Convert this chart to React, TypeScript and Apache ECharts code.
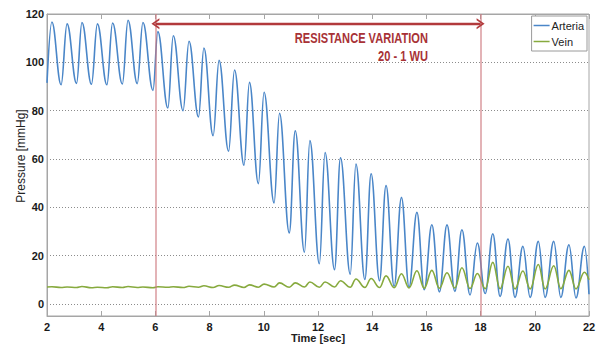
import React, { useEffect, useRef } from "react";
import * as echarts from "echarts";

// ---- data ----
const xTicks = [2, 4, 6, 8, 10, 12, 14, 16, 18, 20, 22];
const yTicks = [0, 20, 40, 60, 80, 100, 120];

const arteriaStart = [2.0, 91.5];
const arteriaEnd = [22.0, 4.0];
const arteriaPeakTime = [2.18, 2.74, 3.29, 3.86, 4.42, 4.99, 5.54, 6.09, 6.66, 7.24, 7.79, 8.35, 8.92, 9.47, 10.01, 10.58, 11.16, 11.7, 12.26, 12.83, 13.4, 13.96, 14.51, 15.08, 15.65, 16.2, 16.76, 17.31, 17.88, 18.45, 19.01, 19.56, 20.13, 20.7, 21.26, 21.83];
const arteriaPeak = [116.7, 115.9, 116.5, 115.9, 116.3, 117.4, 116.5, 112.7, 111.0, 108.7, 105.9, 100.8, 96.8, 91.7, 87.6, 78.9, 71.7, 67.6, 62.7, 60.5, 57.9, 53.9, 49.0, 44.1, 37.9, 32.8, 32.7, 30.7, 25.2, 29.0, 26.9, 23.8, 25.9, 25.9, 24.5, 23.8];
const arteriaTroughTime = [2.52, 3.09, 3.64, 4.21, 4.78, 5.33, 5.91, 6.46, 7.02, 7.59, 8.13, 8.7, 9.27, 9.8, 10.38, 10.94, 11.5, 12.05, 12.61, 13.19, 13.73, 14.27, 14.81, 15.36, 15.92, 16.48, 17.05, 17.61, 18.17, 18.72, 19.27, 19.83, 20.38, 20.96, 21.52];
const arteriaTrough = [90.7, 91.3, 90.9, 90.7, 91.0, 91.2, 88.4, 81.1, 80.0, 77.4, 69.6, 63.2, 57.4, 49.8, 41.8, 29.4, 21.4, 16.6, 14.2, 12.3, 10.1, 9.6, 7.3, 7.0, 5.9, 5.0, 5.2, 3.7, 4.3, 3.1, 2.7, 2.7, 2.7, 2.7, 2.5];

const veinStart = [2.0, 7.0];
const veinEnd = [22.0, 10.0];
const veinPeak = [7.1, 7.0, 7.2, 6.9, 7.1, 7.2, 7.0, 7.1, 7.1, 7.3, 7.5, 7.6, 7.8, 7.9, 8.2, 8.7, 8.7, 9.1, 9.1, 9.6, 10.3, 10.5, 11.6, 12.5, 13.7, 13.9, 12.9, 15.0, 12.6, 17.2, 15.6, 13.6, 16.3, 15.8, 13.9, 13.1];
const veinTrough = [6.8, 6.8, 6.7, 6.7, 6.8, 6.8, 6.7, 6.9, 6.8, 6.9, 6.8, 6.9, 6.8, 6.9, 7.0, 6.9, 7.0, 6.9, 7.0, 6.9, 6.8, 6.8, 6.7, 6.6, 6.5, 6.5, 6.6, 6.4, 6.3, 6.3, 6.2, 6.2, 6.2, 6.3, 6.2];

const resistanceStart = 6;
const resistanceEnd = 18;
const arrowLevel = 116;
const titleLine1 = "RESISTANCE VARIATION";
const titleLine2 = "20 - 1 WU";
const yTitle = "Pressure [mmHg]";
const xTitle = "Time [sec]";

function buildWave(start: number[], end: number[], peakT: number[], peakV: number[], troughT: number[], troughV: number[]) {
  const pts: number[][] = [start];
  for (let i = 0; i < peakT.length; i++) {
    pts.push([peakT[i], peakV[i]]);
    if (i < troughT.length) pts.push([troughT[i], troughV[i]]);
  }
  pts.push(end);
  return pts;
}

const NARROW = "'Liberation Sans Narrow', 'Liberation Sans', Arial, sans-serif";
const SANS = "'Liberation Sans', Arial, sans-serif";
const chevron = "path://M0,10 L5,0 L10,10 L8.2,10 L5,3.6 L1.8,10 Z";

export default function App() {
  const ref = useRef<HTMLDivElement>(null);
  useEffect(() => {
    if (!ref.current) return;
    const chart = echarts.init(ref.current, undefined, { renderer: "svg" });
    const arteria = buildWave(arteriaStart, arteriaEnd, arteriaPeakTime, arteriaPeak, arteriaTroughTime, arteriaTrough);
    const vein = buildWave(veinStart, veinEnd, arteriaPeakTime, veinPeak, arteriaTroughTime, veinTrough);
    const axisGray = "#a6a6a6";
    chart.setOption({
      animation: false,
      backgroundColor: "#ffffff",
      grid: { left: 47, right: 14, top: 14, bottom: 31, show: true, borderColor: axisGray, borderWidth: 1, outerBoundsMode: "none", containLabel: false },
      legend: {
        data: [
          { name: "Arteria", icon: "rect" },
          { name: "Vein", icon: "rect" },
        ],
        orient: "vertical",
        right: 16,
        top: 16,
        itemWidth: 16,
        itemHeight: 1.5,
        itemGap: 5,
        padding: [4, 3, 4, 2],
        backgroundColor: "#ffffff",
        borderColor: "#9a9a9a",
        borderWidth: 1,
        textStyle: { fontSize: 11, color: "#222", fontFamily: NARROW, padding: [0, 0, 0, -3] },
      },
      xAxis: [
        {
          type: "value",
          min: 2,
          max: 22,
          interval: 2,
          name: xTitle,
          nameLocation: "middle",
          nameGap: 16,
          nameMoveOverlap: false,
          nameTextStyle: { fontSize: 11, fontWeight: "bold", color: "#222", fontFamily: NARROW },
          axisLine: { onZero: false, lineStyle: { color: axisGray } },
          axisTick: { inside: true, length: 5, lineStyle: { color: axisGray } },
          axisLabel: { fontSize: 11, fontWeight: "bold", color: "#1a1a1a", margin: 5, fontFamily: SANS },
          splitLine: { show: false },
        },
        {
          type: "value",
          position: "top",
          min: 2,
          max: 22,
          interval: 2,
          axisLine: { onZero: false, lineStyle: { color: axisGray } },
          axisTick: { inside: true, length: 5, lineStyle: { color: axisGray } },
          axisLabel: { show: false },
          splitLine: { show: false },
        },
      ],
      yAxis: {
        type: "value",
        min: -5,
        max: 120,
        axisLine: { show: true, lineStyle: { color: axisGray } },
        axisTick: { show: false, customValues: yTicks },
        axisLabel: { fontSize: 11, fontWeight: "bold", color: "#1a1a1a", margin: 3, fontFamily: SANS, customValues: yTicks },
        splitLine: { show: true, lineStyle: { color: "#8c8c8c", type: [1, 2], width: 1 } },
      },
      series: [
        {
          name: "Arteria",
          type: "line",
          data: arteria,
          symbol: "none",
          smooth: 0.4,
          smoothMonotone: "x",
          lineStyle: { color: "#4a86c8", width: 1.6 },
          itemStyle: { color: "#4a86c8" },
          z: 3,
          markLine: {
            silent: true,
            symbol: "none",
            label: { show: false },
            lineStyle: { color: "rgba(205,120,125,0.7)", width: 1.6, type: "solid" },
            data: [{ xAxis: resistanceStart }, { xAxis: resistanceEnd }],
          },
        },
        {
          name: "Vein",
          type: "line",
          data: vein,
          symbol: "none",
          smooth: 0.4,
          smoothMonotone: "x",
          lineStyle: { color: "#87aa3e", width: 1.6 },
          itemStyle: { color: "#87aa3e" },
          z: 4,
          markLine: {
            silent: true,
            symbol: [chevron, chevron],
            symbolSize: [11, 8],
            label: { show: false },
            lineStyle: { color: "#b23a3c", width: 2.4, type: "solid" },
            data: [[{ coord: [resistanceStart, arrowLevel] }, { coord: [resistanceEnd, arrowLevel] }]],
          },
        },
      ],
      graphic: [
        {
          type: "text",
          x: 21,
          y: 156,
          rotation: Math.PI / 2,
          style: {
            text: yTitle,
            fill: "#222",
            font: "12px " + NARROW,
            textAlign: "center",
            textVerticalAlign: "middle",
          },
        },
        {
          type: "text",
          x: 428,
          y: 30,
          scaleX: 0.74,
          style: {
            text: titleLine1,
            fill: "#a83236",
            font: "bold 15px " + SANS,
            textAlign: "right",
            textVerticalAlign: "top",
          },
        },
        {
          type: "text",
          x: 428,
          y: 48,
          scaleX: 0.74,
          style: {
            text: titleLine2,
            fill: "#a83236",
            font: "bold 15px " + SANS,
            textAlign: "right",
            textVerticalAlign: "top",
          },
        },
      ],
    });
    return () => chart.dispose();
  }, []);
  return <div ref={ref} style={{ position: "absolute", left: 0, top: 0, width: 603, height: 347 }} />;
}
